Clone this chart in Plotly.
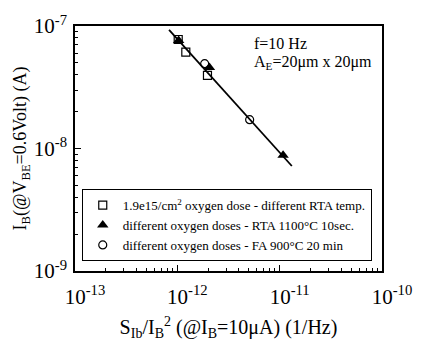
import plotly.graph_objects as go

# Normalised base-current noise S_Ib/I_B^2 (1/Hz) vs base current I_B (A)
sq_x = [1.02e-12, 1.21e-12, 1.97e-12]
sq_y = [7.76e-8, 6.13e-8, 3.96e-8]

tri_x = [1.03e-12, 2.06e-12, 1.08e-11]
tri_y = [7.62e-8, 4.58e-8, 8.8e-9]

circ_x = [1.85e-12, 5.09e-12]
circ_y = [4.93e-8, 1.72e-8]

# fitted trend line end points
fit_x = [8.3e-13, 1.315e-11]
fit_y = [9.3e-8, 7.2e-9]

x_major = [1e-13, 1e-12, 1e-11, 1e-10]
x_labels = ["10<sup>-13</sup>", "10<sup>-12</sup>", "10<sup>-11</sup>", "10<sup>-10</sup>"]
y_major = [1e-9, 1e-8, 1e-7]
y_labels = ["10<sup>-9</sup>", "10<sup>-8</sup>", "10<sup>-7</sup>"]

legend_names = [
    "1.9e15/cm<sup>2</sup> oxygen dose - different RTA temp.",
    "different oxygen doses - RTA 1100°C 10sec.",
    "different oxygen doses - FA 900°C 20 min",
]

FONT = "Liberation Serif, Times New Roman, serif"


def minors(majors):
    vals = []
    for m in majors[:-1]:
        for k in range(2, 10):
            vals.append(m * k)
    return vals


fig = go.Figure()

fig.add_trace(go.Scatter(
    x=fit_x, y=fit_y, mode="lines",
    line=dict(color="black", width=1.8), showlegend=False, hoverinfo="skip"))

fig.add_trace(go.Scatter(
    x=sq_x, y=sq_y, mode="markers", name=legend_names[0],
    marker=dict(symbol="square-open", size=8, color="black", line=dict(width=1.2))))
fig.add_trace(go.Scatter(
    x=tri_x, y=tri_y, mode="markers", name=legend_names[1],
    marker=dict(symbol="triangle-up", size=10, color="black")))
fig.add_trace(go.Scatter(
    x=circ_x, y=circ_y, mode="markers", name=legend_names[2],
    marker=dict(symbol="circle-open", size=8, color="black", line=dict(width=1.2))))

axis_common = dict(
    type="log", tickmode="array",
    ticks="inside", ticklen=6, tickwidth=1, tickcolor="black",
    showline=True, linecolor="black", linewidth=1.5, mirror=True,
    showgrid=False, zeroline=False,
    tickfont=dict(family=FONT, size=21, color="black"),
)

fig.update_xaxes(
    **axis_common, range=[-13, -10], tickvals=x_major, ticktext=x_labels,
    minor=dict(tickmode="array", tickvals=minors(x_major), ticks="inside",
               ticklen=3, tickwidth=1, tickcolor="black", showgrid=False),
    ticklabelstandoff=6, ticklabelshift=10,
    title=dict(text="S<sub>Ib</sub>/I<sub>B</sub><sup>2</sup> (@I<sub>B</sub>=10μA) (1/Hz)",
               font=dict(family=FONT, size=20, color="black"), standoff=12),
)
fig.update_yaxes(
    **axis_common, range=[-9, -7], tickvals=y_major, ticktext=y_labels,
    minor=dict(tickmode="array", tickvals=minors(y_major), ticks="inside",
               ticklen=3, tickwidth=1, tickcolor="black", showgrid=False),
    ticklabelstandoff=2,
    title=dict(text="I<sub>B</sub>(@V<sub>BE</sub>=0.6Volt) (A)",
               font=dict(family=FONT, size=18, color="black"), standoff=2),
)

fig.add_annotation(
    x=0.575, y=0.93, xref="paper", yref="paper", xanchor="left", yanchor="middle",
    text="f=10 Hz", showarrow=False, font=dict(family=FONT, size=16, color="black"))
fig.add_annotation(
    x=0.575, y=0.85, xref="paper", yref="paper", xanchor="left", yanchor="middle",
    text="A<sub>E</sub>=20μm x 20μm", showarrow=False,
    font=dict(family=FONT, size=16, color="black"))

fig.update_layout(
    width=424, height=350,
    margin=dict(l=75, r=36, t=17, b=79),
    paper_bgcolor="white", plot_bgcolor="white",
    font=dict(family=FONT, color="black"),
    legend=dict(
        x=0.022, y=0.04, xanchor="left", yanchor="bottom",
        bordercolor="black", borderwidth=1, bgcolor="white",
        font=dict(family=FONT, size=13, color="black"),
        tracegroupgap=0, itemwidth=30,
    ),
)

fig.write_html("out.html")
